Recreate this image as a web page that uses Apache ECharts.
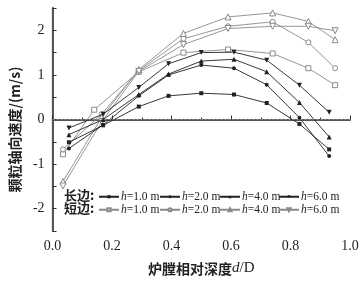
<!DOCTYPE html>
<html><head><meta charset="utf-8">
<script src="https://cdn.jsdelivr.net/npm/echarts@6/dist/echarts.min.js"></script>
<style>html,body{margin:0;padding:0;background:#fff}#c{width:362px;height:281px}</style>
</head><body><div id="c"></div>
<script>
// Long edge (长边) x positions and values
const longX = [0.055, 0.17, 0.29, 0.39, 0.50, 0.61, 0.72, 0.83, 0.93];
const longH1 = [-0.51, -0.13, 0.29, 0.53, 0.59, 0.56, 0.37, -0.10, -0.67];
const longH2 = [-0.65, -0.12, 0.53, 1.00, 1.22, 1.15, 0.78, 0.04, -0.82];
const longH4 = [-0.34, 0.00, 0.56, 1.02, 1.31, 1.35, 1.07, 0.38, -0.39];
const longH6 = [-0.19, 0.12, 0.72, 1.25, 1.50, 1.51, 1.33, 0.77, 0.16];
// Short edge (短边)
const shortX1 = [0.035, 0.14, 0.29, 0.44, 0.59, 0.74, 0.86, 0.95];
const shortX = [0.035, 0.165, 0.29, 0.44, 0.59, 0.74, 0.86, 0.95];
const shortH1 = [-0.78, 0.22, 1.07, 1.50, 1.57, 1.48, 1.15, 0.77];
const shortH2 = [-0.67, 0.12, 1.10, 1.81, 2.09, 2.19, 1.73, 1.15];
const shortH4 = [-1.39, 0.05, 1.12, 1.93, 2.30, 2.39, 2.20, 1.79];
const shortH6 = [-1.49, -0.05, 1.08, 1.68, 2.04, 2.09, 2.09, 1.99];
const hLabels = ['1.0', '2.0', '4.0', '6.0'];
const xTicks = [0, 0.2, 0.4, 0.6, 0.8, 1.0];
const yTicks = [-2, -1, 0, 1, 2];

const serif = '"Liberation Serif", "Noto Sans CJK SC", serif';
const downTri = 'path://M0,0 L10,0 L5,9 Z';
const longColor = '#222';
const shortColor = '#8a8a8a';

function pairs(xs, ys) { return xs.map((x, i) => [x, ys[i]]); }

function mk(name, xs, ys, symbol, filled, color, size) {
  return {
    name: name, type: 'line', data: pairs(xs, ys),
    symbol: symbol, symbolSize: size, showSymbol: true,
    lineStyle: { color: color, width: 0.9 },
    itemStyle: filled ? { color: color } : { color: '#fff', borderColor: color, borderWidth: 1 },
    emphasis: { disabled: true }, animation: false, z: filled ? 3 : 2
  };
}

const longNames = hLabels.map(h => 'L' + h);
const shortNames = hLabels.map(h => 'S' + h);

const series = [
  mk(longNames[0], longX, longH1, 'rect', true, longColor, 4),
  mk(longNames[1], longX, longH2, 'circle', true, longColor, 4),
  mk(longNames[2], longX, longH4, 'triangle', true, longColor, 5),
  mk(longNames[3], longX, longH6, downTri, true, longColor, 5),
  mk(shortNames[0], shortX1, shortH1, 'rect', false, shortColor, 5),
  mk(shortNames[1], shortX, shortH2, 'circle', false, shortColor, 5),
  mk(shortNames[2], shortX, shortH4, 'triangle', false, shortColor, 6),
  mk(shortNames[3], shortX, shortH6, downTri, false, shortColor, 6)
];
series[0].markLine = {
  silent: true, symbol: 'none', label: { show: false },
  lineStyle: { type: [2, 2], color: '#999', width: 0.8 },
  data: [{ yAxis: 0 }]
};

function legendFmt(name) {
  return '{i|h}{n|=' + name.slice(1) + ' m}';
}
const legendRich = {
  i: { fontFamily: serif, fontStyle: 'italic', fontSize: 11.5, color: '#222' },
  n: { fontFamily: serif, fontSize: 11.5, color: '#222' }
};
const legendLefts = [98, 159, 219, 278];
const legends = [];
[longNames, shortNames].forEach((names, row) => {
  names.forEach((nm, k) => {
    legends.push({
      data: [nm], left: legendLefts[k], top: 191 + row * 13, padding: 0,
      itemWidth: 20, itemHeight: 4, selectedMode: false, itemGap: 0,
      formatter: legendFmt, textStyle: { rich: legendRich, padding: [0, 0, 0, -3] }
    });
  });
});

const chart = echarts.init(document.getElementById('c'), null, { renderer: 'canvas' });
chart.setOption({
  animation: false,
  backgroundColor: '#fff',
  grid: { left: 44, right: 12, top: 8, bottom: 48, containLabel: false },
  xAxis: [{
    type: 'value', min: 0, max: 1, interval: 0.2,
    axisLine: { lineStyle: { color: '#333', width: 1.2 } },
    axisTick: { inside: true, length: 4, lineStyle: { color: '#333' } },
    minorTick: { show: true, splitNumber: 2, length: 2, lineStyle: { color: '#333' } },
    splitLine: { show: false },
    axisLabel: { fontFamily: serif, fontSize: 14, color: '#222', margin: 8,
      formatter: v => xTicks.some(t => Math.abs(t - v) < 1e-6) ? v.toFixed(1) : '' },
    name: '{c|炉膛相对深度}{i|d}{n|/D}', nameLocation: 'middle', nameGap: 30,
    nameTextStyle: { rich: {
      c: { fontFamily: '"Noto Sans CJK SC"', fontSize: 14, color: '#222', fontWeight: 'bold' },
      i: { fontFamily: serif, fontStyle: 'italic', fontSize: 15, color: '#222' },
      n: { fontFamily: serif, fontSize: 15, color: '#222' } } }
  }, {
    type: 'value', min: 0, max: 1, interval: 0.2, position: 'top',
    axisLine: { show: true, lineStyle: { color: '#555', width: 2 } },
    axisTick: { show: false }, axisLabel: { show: false }, splitLine: { show: false }
  }],
  yAxis: [{
    type: 'value', min: -2.5, max: 2.5, interval: 0.5,
    axisLine: { show: true, lineStyle: { color: '#333', width: 1.2 } },
    axisTick: { show: true, inside: true, length: 4, lineStyle: { color: '#333' } },
    splitLine: { show: false },
    axisLabel: { fontFamily: serif, fontSize: 14, color: '#222', margin: 8,
      formatter: v => yTicks.includes(v) ? String(v) : '' },
    name: '颗粒轴向速度/(m/s)', nameLocation: 'middle', nameGap: 26,
    nameTextStyle: { fontFamily: '"Noto Sans CJK SC"', fontSize: 14, color: '#222', fontWeight: 'bold',
      padding: [0, 20, 0, 0] }
  }, {
    type: 'value', min: -2.5, max: 2.5, interval: 0.5, position: 'right',
    axisLine: { show: true, lineStyle: { color: '#555', width: 2 } },
    axisTick: { show: false }, axisLabel: { show: false }, splitLine: { show: false }
  }],
  legend: legends,
  graphic: [
    { type: 'text', left: 64, top: 189, style: { text: '长边:', font: 'bold 13px "Noto Sans CJK SC"', fill: '#222' } },
    { type: 'text', left: 64, top: 202, style: { text: '短边:', font: 'bold 13px "Noto Sans CJK SC"', fill: '#222' } }
  ],
  series: series
});
</script></body></html>
